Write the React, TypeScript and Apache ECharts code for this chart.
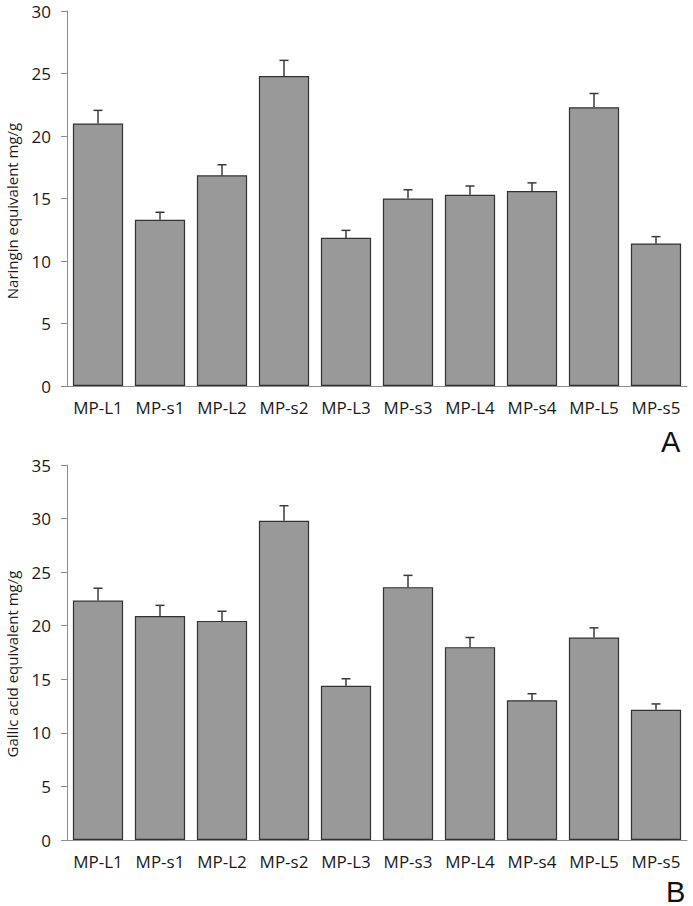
import React, { useEffect, useRef } from "react";
import * as echarts from "echarts";

const categories = ["MP-L1", "MP-s1", "MP-L2", "MP-s2", "MP-L3", "MP-s3", "MP-L4", "MP-s4", "MP-L5", "MP-s5"];

const naringinValues = [21.0, 13.3, 16.85, 24.8, 11.85, 15.0, 15.3, 15.6, 22.3, 11.4];
const naringinErrors = [1.05, 0.6, 0.85, 1.25, 0.6, 0.7, 0.7, 0.65, 1.1, 0.55];

const gallicValues = [22.35, 20.9, 20.45, 29.8, 14.4, 23.6, 18.0, 13.05, 18.9, 12.15];
const gallicErrors = [1.15, 1.0, 0.9, 1.4, 0.65, 1.1, 0.9, 0.6, 0.9, 0.55];

const topAxisName = "Naringin equivalent mg/g";
const bottomAxisName = "Gallic acid equivalent mg/g";

const topAxisMax = 30;
const bottomAxisMax = 35;
const axisInterval = 5;

const FONT = "Open Sans";

function errorRenderer(params: any, api: any) {
  const x = api.value(0);
  const v = api.value(1);
  const e = api.value(2);
  const p0 = api.coord([x, v]);
  const p1 = api.coord([x, v + e]);
  const cap = 4.5;
  const style = { stroke: "#3a3a3a", lineWidth: 1.5 };
  return {
    type: "group",
    children: [
      { type: "line", shape: { x1: p0[0], y1: p0[1], x2: p1[0], y2: p1[1] }, style },
      { type: "line", shape: { x1: p1[0] - cap, y1: p1[1], x2: p1[0] + cap, y2: p1[1] }, style },
    ],
  };
}

export default function App() {
  const ref = useRef<HTMLDivElement>(null);
  useEffect(() => {
    if (!ref.current) return;
    const chart = echarts.init(ref.current, undefined, { renderer: "svg" });
    const yAxisCommon = (max: number, gridIndex: number) => ({
      type: "value",
      gridIndex,
      min: 0,
      max,
      interval: axisInterval,
      axisLine: { show: true, lineStyle: { color: "#8c8c8c", width: 1 } },
      axisTick: { show: true, inside: false, length: 6, lineStyle: { color: "#8c8c8c" } },
      axisLabel: { fontFamily: FONT, fontSize: 17, color: "#1a1a1a", margin: 16 },
      splitLine: { show: false },
    });
    const xAxisCommon = (gridIndex: number) => ({
      type: "category",
      gridIndex,
      data: categories,
      axisLine: { show: true, lineStyle: { color: "#8c8c8c", width: 1 } },
      axisTick: { show: false },
      axisLabel: { fontFamily: FONT, fontSize: 17, color: "#1a1a1a", margin: 13, interval: 0 },
    });
    const barStyle = { color: "#999999", borderColor: "#333333", borderWidth: 1.2 };
    const toErr = (vals: number[], errs: number[]) => vals.map((v, i) => [i, v, errs[i]]);
    const nameStyle = {
      fontFamily: FONT,
      fontSize: 15,
      fill: "#1a1a1a",
      align: "center",
      verticalAlign: "middle",
    };
    chart.setOption({
      animation: false,
      grid: [
        { left: 67, top: 11, width: 620, height: 375 },
        { left: 67, top: 465, width: 620, height: 375 },
      ],
      xAxis: [xAxisCommon(0), xAxisCommon(1)],
      yAxis: [yAxisCommon(topAxisMax, 0), yAxisCommon(bottomAxisMax, 1)],
      series: [
        {
          type: "bar",
          xAxisIndex: 0,
          yAxisIndex: 0,
          data: naringinValues,
          barCategoryGap: "19%",
          itemStyle: barStyle,
        },
        {
          type: "custom",
          xAxisIndex: 0,
          yAxisIndex: 0,
          data: toErr(naringinValues, naringinErrors),
          renderItem: errorRenderer,
          z: 5,
        },
        {
          type: "bar",
          xAxisIndex: 1,
          yAxisIndex: 1,
          data: gallicValues,
          barCategoryGap: "19%",
          itemStyle: barStyle,
        },
        {
          type: "custom",
          xAxisIndex: 1,
          yAxisIndex: 1,
          data: toErr(gallicValues, gallicErrors),
          renderItem: errorRenderer,
          z: 5,
        },
      ],
      graphic: [
        {
          type: "text",
          x: 12,
          y: 211,
          rotation: Math.PI / 2,
          style: { text: topAxisName, ...nameStyle },
        },
        {
          type: "text",
          x: 12,
          y: 664,
          rotation: Math.PI / 2,
          style: { text: bottomAxisName, ...nameStyle },
        },
        {
          type: "text",
          left: 661,
          top: 427,
          style: { text: "A", fontFamily: "Liberation Sans", fontSize: 29, fill: "#111" },
        },
        {
          type: "text",
          left: 666,
          top: 877,
          style: { text: "B", fontFamily: "Liberation Sans", fontSize: 29, fill: "#111" },
        },
      ],
    });
    return () => chart.dispose();
  }, []);
  return (
    <div
      ref={ref}
      style={{ position: "fixed", left: 0, top: 0, width: 693, height: 906, background: "#fff" }}
    />
  );
}
